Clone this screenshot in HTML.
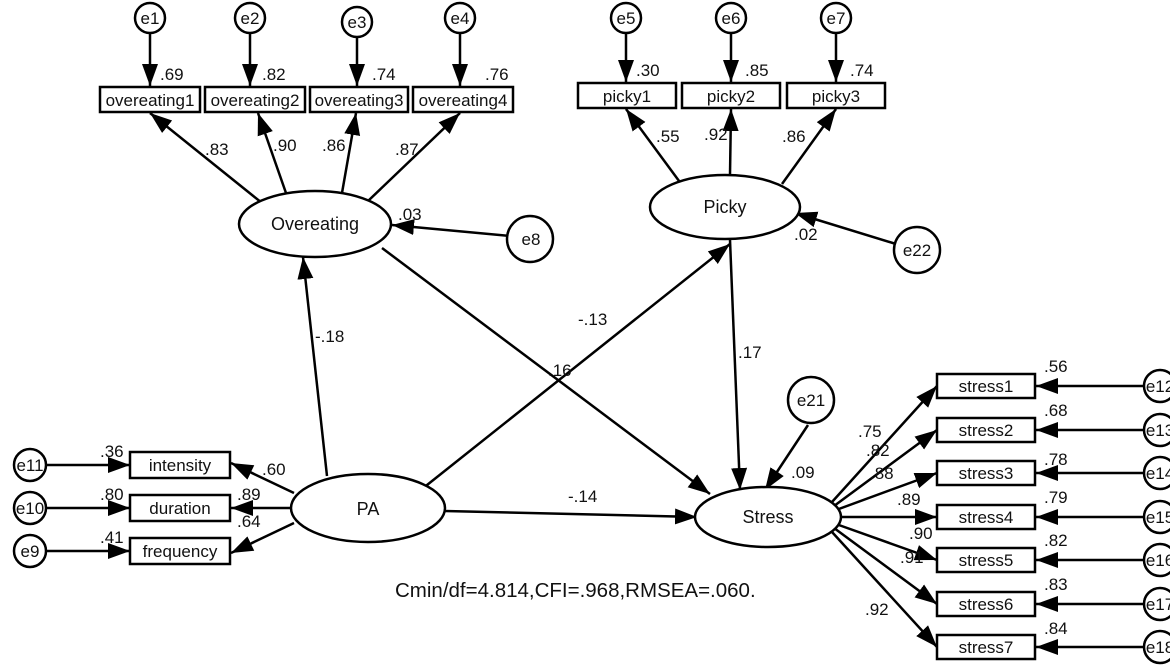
<!DOCTYPE html>
<html><head><meta charset="utf-8"><style>
html,body{margin:0;padding:0;background:#fff;}
svg{display:block;}
text{font-family:"Liberation Sans",Arial,sans-serif;font-size:17px;fill:#111;}
.n text{font-size:17px;}
.n .big{font-size:18px;}
</style></head><body>
<svg width="1170" height="672" viewBox="0 0 1170 672" xmlns="http://www.w3.org/2000/svg">
<defs>
<marker id="a" markerUnits="userSpaceOnUse" markerWidth="24" markerHeight="18" refX="22" refY="8" orient="auto">
<path d="M0,0 L22,8 L0,16 z" fill="#000"/>
</marker>
</defs>
<g stroke="#000" stroke-width="2.5" fill="none">
<line x1="150" y1="33" x2="150" y2="86" marker-end="url(#a)"/>
<line x1="250" y1="33" x2="250" y2="86" marker-end="url(#a)"/>
<line x1="357" y1="37" x2="357" y2="86" marker-end="url(#a)"/>
<line x1="460" y1="33" x2="460" y2="86" marker-end="url(#a)"/>
<line x1="626" y1="33" x2="626" y2="82" marker-end="url(#a)"/>
<line x1="731" y1="33" x2="731" y2="82" marker-end="url(#a)"/>
<line x1="836" y1="33" x2="836" y2="82" marker-end="url(#a)"/>
<line x1="262" y1="203" x2="150" y2="113" marker-end="url(#a)"/>
<line x1="286" y1="193" x2="258" y2="113" marker-end="url(#a)"/>
<line x1="342" y1="193" x2="356" y2="113" marker-end="url(#a)"/>
<line x1="368" y1="201" x2="460" y2="113" marker-end="url(#a)"/>
<line x1="510" y1="236" x2="392" y2="225" marker-end="url(#a)"/>
<line x1="682" y1="185" x2="626" y2="109" marker-end="url(#a)"/>
<line x1="730" y1="175" x2="731" y2="109" marker-end="url(#a)"/>
<line x1="782" y1="184" x2="836" y2="109" marker-end="url(#a)"/>
<line x1="896" y1="244" x2="795" y2="213" marker-end="url(#a)"/>
<line x1="327" y1="476" x2="303" y2="257" marker-end="url(#a)"/>
<line x1="422" y1="489" x2="730" y2="244" marker-end="url(#a)"/>
<line x1="445" y1="511" x2="697" y2="517" marker-end="url(#a)"/>
<line x1="382" y1="248" x2="710" y2="494" marker-end="url(#a)"/>
<line x1="730" y1="240" x2="740" y2="490" marker-end="url(#a)"/>
<line x1="808" y1="425" x2="765" y2="490" marker-end="url(#a)"/>
<line x1="294" y1="493" x2="231" y2="463" marker-end="url(#a)"/>
<line x1="292" y1="508" x2="231" y2="508" marker-end="url(#a)"/>
<line x1="294" y1="523" x2="231" y2="553" marker-end="url(#a)"/>
<line x1="46" y1="465" x2="130" y2="465" marker-end="url(#a)"/>
<line x1="46" y1="508" x2="130" y2="508" marker-end="url(#a)"/>
<line x1="46" y1="551" x2="130" y2="551" marker-end="url(#a)"/>
<line x1="832" y1="502" x2="937" y2="386" marker-end="url(#a)"/>
<line x1="834" y1="506" x2="937" y2="430" marker-end="url(#a)"/>
<line x1="836" y1="510" x2="937" y2="473" marker-end="url(#a)"/>
<line x1="841" y1="517" x2="937" y2="517" marker-end="url(#a)"/>
<line x1="836" y1="524" x2="937" y2="560" marker-end="url(#a)"/>
<line x1="834" y1="528" x2="937" y2="604" marker-end="url(#a)"/>
<line x1="832" y1="532" x2="937" y2="647" marker-end="url(#a)"/>
<line x1="1145" y1="386" x2="1036" y2="386" marker-end="url(#a)"/>
<line x1="1145" y1="430" x2="1036" y2="430" marker-end="url(#a)"/>
<line x1="1145" y1="473" x2="1036" y2="473" marker-end="url(#a)"/>
<line x1="1145" y1="517" x2="1036" y2="517" marker-end="url(#a)"/>
<line x1="1145" y1="560" x2="1036" y2="560" marker-end="url(#a)"/>
<line x1="1145" y1="604" x2="1036" y2="604" marker-end="url(#a)"/>
<line x1="1145" y1="647" x2="1036" y2="647" marker-end="url(#a)"/>
</g>
<g stroke="#000" stroke-width="2.5" fill="#fff">
<rect x="100" y="87" width="100" height="25"/><rect x="205" y="87" width="100" height="25"/>
<rect x="310" y="87" width="98" height="25"/><rect x="413" y="87" width="100" height="25"/>
<rect x="578" y="83" width="98" height="25"/><rect x="682" y="83" width="98" height="25"/><rect x="787" y="83" width="98" height="25"/>
<rect x="130" y="452" width="100" height="26"/><rect x="130" y="495" width="100" height="26"/><rect x="130" y="538" width="100" height="26"/>
<rect x="937" y="374" width="98" height="24"/><rect x="937" y="418" width="98" height="24"/><rect x="937" y="461" width="98" height="24"/>
<rect x="937" y="505" width="98" height="24"/><rect x="937" y="548" width="98" height="24"/><rect x="937" y="592" width="98" height="24"/>
<rect x="937" y="635" width="98" height="24"/>
<circle cx="150" cy="18" r="15"/><circle cx="250" cy="18" r="15"/><circle cx="357" cy="22" r="15"/><circle cx="460" cy="18" r="15"/>
<circle cx="626" cy="18" r="15"/><circle cx="731" cy="18" r="15"/><circle cx="836" cy="18" r="15"/>
<circle cx="530" cy="239" r="23"/><circle cx="917" cy="250" r="23"/><circle cx="811" cy="400" r="23"/>
<circle cx="30" cy="465" r="16"/><circle cx="30" cy="508" r="16"/><circle cx="30" cy="551" r="16"/>
<circle cx="1160" cy="386" r="16"/><circle cx="1160" cy="430" r="16"/><circle cx="1160" cy="473" r="16"/>
<circle cx="1160" cy="517" r="16"/><circle cx="1160" cy="560" r="16"/><circle cx="1160" cy="604" r="16"/><circle cx="1160" cy="647" r="16"/>
<ellipse cx="315" cy="224" rx="76" ry="33"/>
<ellipse cx="725" cy="207" rx="75" ry="32"/>
<ellipse cx="368" cy="508" rx="77" ry="34"/>
<ellipse cx="768" cy="517" rx="73" ry="30"/>
</g>
<g text-anchor="middle" class="n">
<text x="150" y="106">overeating1</text><text x="255" y="106">overeating2</text>
<text x="359" y="106">overeating3</text><text x="463" y="106">overeating4</text>
<text x="627" y="102">picky1</text><text x="731" y="102">picky2</text><text x="836" y="102">picky3</text>
<text x="180" y="471">intensity</text><text x="180" y="514">duration</text><text x="180" y="557">frequency</text>
<text x="986" y="392">stress1</text><text x="986" y="436">stress2</text><text x="986" y="479">stress3</text>
<text x="986" y="523">stress4</text><text x="986" y="566">stress5</text><text x="986" y="610">stress6</text><text x="986" y="653">stress7</text>
<text class="big" x="315" y="230">Overeating</text><text class="big" x="725" y="213">Picky</text>
<text class="big" x="368" y="515">PA</text><text class="big" x="768" y="523">Stress</text>
<text x="150" y="24">e1</text><text x="250" y="24">e2</text><text x="357" y="28">e3</text><text x="460" y="24">e4</text>
<text x="626" y="24">e5</text><text x="731" y="24">e6</text><text x="836" y="24">e7</text>
<text x="531" y="245">e8</text><text x="917" y="256">e22</text><text x="811" y="406">e21</text>
<text x="30" y="471">e11</text><text x="30" y="514">e10</text><text x="30" y="557">e9</text>
<text x="1160" y="392">e12</text><text x="1160" y="436">e13</text><text x="1160" y="479">e14</text>
<text x="1160" y="523">e15</text><text x="1160" y="566">e16</text><text x="1160" y="610">e17</text><text x="1160" y="653">e18</text>
</g>
<g>
<text x="160" y="80">.69</text><text x="262" y="80">.82</text><text x="372" y="80">.74</text><text x="485" y="80">.76</text>
<text x="636" y="76">.30</text><text x="745" y="76">.85</text><text x="850" y="76">.74</text>
<text x="205" y="155">.83</text><text x="273" y="151">.90</text><text x="322" y="151">.86</text><text x="395" y="155">.87</text>
<text x="656" y="142">.55</text><text x="704" y="140">.92</text><text x="782" y="142">.86</text>
<text x="398" y="220">.03</text><text x="794" y="240">.02</text>
<text x="315" y="342">-.18</text><text x="578" y="325">-.13</text><text x="548" y="376">.16</text>
<text x="738" y="358">.17</text><text x="568" y="502">-.14</text><text x="791" y="478">.09</text>
<text x="262" y="475">.60</text><text x="237" y="500">.89</text><text x="237" y="527">.64</text>
<text x="100" y="457">.36</text><text x="100" y="500">.80</text><text x="100" y="543">.41</text>
<text x="858" y="437">.75</text><text x="866" y="456">.82</text><text x="870" y="479">.88</text>
<text x="897" y="505">.89</text><text x="909" y="539">.90</text><text x="900" y="563">.91</text><text x="865" y="615">.92</text>
<text x="1044" y="372">.56</text><text x="1044" y="416">.68</text><text x="1044" y="465">.78</text>
<text x="1044" y="503">.79</text><text x="1044" y="546">.82</text><text x="1044" y="590">.83</text><text x="1044" y="634">.84</text>
<text x="395" y="597" style="font-size:20.5px">Cmin/df=4.814,CFI=.968,RMSEA=.060.</text>
</g>
</svg>
</body></html>
